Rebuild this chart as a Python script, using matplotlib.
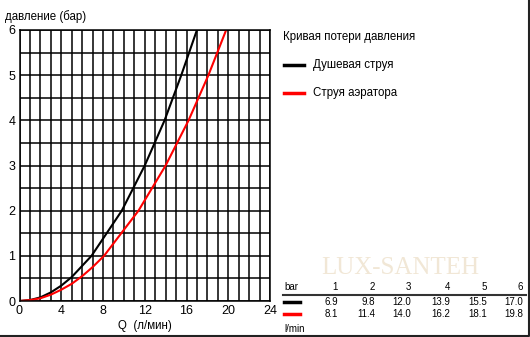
import numpy as np
import matplotlib.pyplot as plt
from matplotlib.lines import Line2D

plt.rcParams['font.family'] = ['Liberation Sans', 'DejaVu Sans']

# table values (bar -> l/min)
bars = [1, 2, 3, 4, 5, 6]
shower_q = [6.9, 9.8, 12.0, 13.9, 15.5, 17.0]
aerator_q = [8.1, 11.4, 14.0, 16.2, 18.1, 19.8]

# low-flow part of the curves
shower_low_q = [0, 1, 2, 3, 4, 5]
shower_low_p = [0, 0.02, 0.08, 0.19, 0.34, 0.53]
aerator_low_q = [0, 1, 2, 3, 4, 5, 6, 7]
aerator_low_p = [0, 0.02, 0.06, 0.14, 0.25, 0.38, 0.55, 0.75]

W, H = 530, 337
fig = plt.figure(figsize=(W / 100, H / 100), dpi=100)
fig.patch.set_facecolor('white')

ax = fig.add_axes([19.5 / W, 1 - 301 / H, (270 - 19.5) / W, (301 - 30) / H])
ax.set_xlim(0, 24)
ax.set_ylim(0, 6)
ax.set_xticks(range(0, 25, 4))
ax.set_yticks(range(0, 7))
ax.set_xticks(range(0, 25), minor=True)
ax.set_yticks(np.arange(0, 6.01, 0.5), minor=True)
ax.grid(which='both', color='black', linewidth=1.1)
ax.tick_params(which='both', length=0, labelsize=9, pad=3)
for s in ax.spines.values():
    s.set_color('black')
    s.set_linewidth(1.1)

ax.plot(shower_low_q + shower_q, shower_low_p + bars, color='black', lw=1.5)
ax.plot(aerator_low_q + aerator_q, aerator_low_p + bars, color='red', lw=1.5)

fig.text(5 / W, 1 - 17 / H, 'давление (бар)', fontsize=8.3, va='center')
fig.text(145 / W, 1 - 326 / H, 'Q  (л/мин)', fontsize=8.3, va='center', ha='center')

# legend block
fig.text(283 / W, 1 - 37 / H, 'Кривая потери давления', fontsize=8.3, va='center')
fig.add_artist(Line2D([284 / W, 304 / W], [1 - 65 / H] * 2, color='black', lw=2.5))
fig.text(313 / W, 1 - 65 / H, 'Душевая струя', fontsize=8.3, va='center')
fig.add_artist(Line2D([284 / W, 304 / W], [1 - 93 / H] * 2, color='red', lw=2.5))
fig.text(313 / W, 1 - 93 / H, 'Струя аэратора', fontsize=8.3, va='center')

# watermark
fig.text(400 / W, 1 - 268 / H, 'LUX-SANTEH', fontsize=18, family='Liberation Serif',
         color='#f1e7d6', va='center', ha='center')

# table
cols = [338, 375, 411, 450, 487, 523]
fig.text(284 / W, 1 - 287 / H, 'bar', fontsize=7, va='center')
for x, b, s, a in zip(cols, bars, shower_q, aerator_q):
    fig.text(x / W, 1 - 287 / H, str(b), fontsize=7, va='center', ha='right')
    fig.text(x / W, 1 - 302 / H, f'{s:.1f}', fontsize=7, va='center', ha='right')
    fig.text(x / W, 1 - 314 / H, f'{a:.1f}', fontsize=7, va='center', ha='right')
fig.add_artist(Line2D([283 / W, 526 / W], [1 - 294.5 / H] * 2, color='#333333', lw=1.5))
fig.add_artist(Line2D([284 / W, 300 / W], [1 - 302 / H] * 2, color='black', lw=2.5))
fig.add_artist(Line2D([284 / W, 300 / W], [1 - 314 / H] * 2, color='red', lw=2.5))
fig.text(284 / W, 1 - 329 / H, 'l/min', fontsize=7, va='center')

# frame on right and bottom
fig.add_artist(Line2D([0, 528.5 / W, 528.5 / W], [1.5 / H, 1.5 / H, 1], color='#222222', lw=1.5))

fig.savefig('out.png', dpi=100)
